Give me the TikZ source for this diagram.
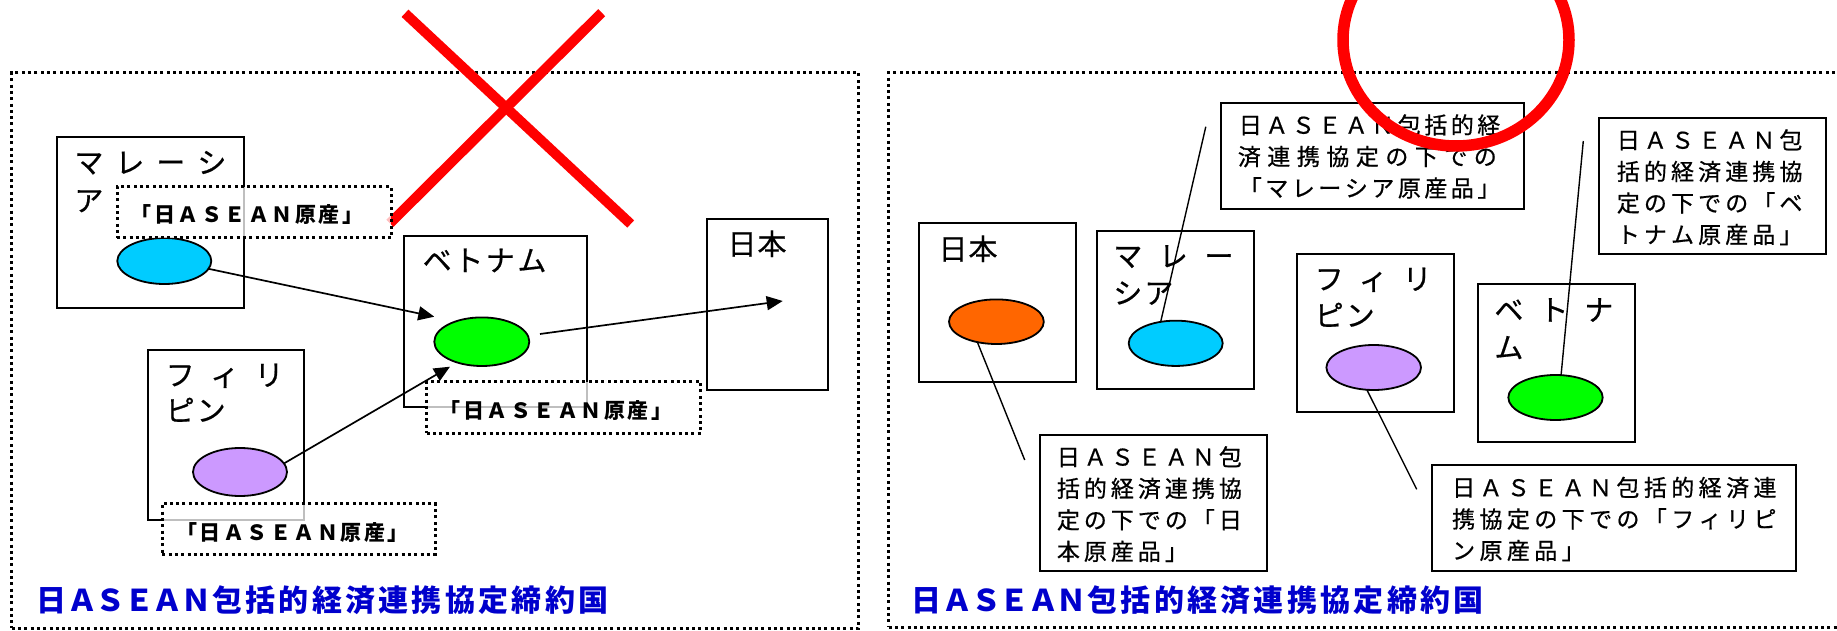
\documentclass[tikz,border=0pt]{standalone}
\usepackage{fontspec}
\setmainfont{Noto Sans CJK JP}
\newfontfamily\cjkthick{Noto Sans CJK JP}[FakeBold=0.6]
\usetikzlibrary{arrows.meta,shapes.geometric}
\makeatletter
\newcommand\spreadL[2]{\@tfor\spr@c:=#2\do{\makebox[#1][l]{\spr@c}}}
\newcommand\spreadC[2]{\@tfor\spr@c:=#2\do{\makebox[#1][c]{\spr@c}}}
\makeatother
\newcommand\lblfont{\cjkthick\fontsize{29pt}{29pt}\selectfont}
\newcommand\calfont{\cjkthick\fontsize{23pt}{23pt}\selectfont}
\newcommand\tagfont{\fontsize{21pt}{21pt}\selectfont\bfseries}
\newcommand\ttlfont{\fontsize{30pt}{30pt}\selectfont\bfseries}
\definecolor{cyanfill}{HTML}{00CCFF}
\definecolor{greenfill}{HTML}{00FF00}
\definecolor{purplefill}{HTML}{CC99FF}
\definecolor{orangefill}{HTML}{FF6600}
\definecolor{ttlblue}{HTML}{0000CC}
\definecolor{xred}{HTML}{FF0000}
\tikzset{
  boxst/.style={draw, line width=2pt, inner sep=0pt, outer sep=0pt, rectangle},
  dotst/.style={draw, line width=3pt, dash pattern=on 3pt off 3.3pt, inner sep=0pt, outer sep=0pt, rectangle},
  lblst/.style={dotst, fill=white, fill opacity=0.75},
  ell/.style={draw, ellipse, line width=1.8pt, inner sep=0pt, outer sep=0pt},
  txt/.style={inner sep=0pt, outer sep=0pt, anchor=base west},
  tagtxt/.style={inner sep=0pt, outer sep=0pt, anchor=base},
  arr/.style={line width=1.7pt, -{Triangle[length=16pt,width=14pt]}},
  ptr/.style={line width=1.4pt},
  callst/.style={draw, line width=2pt, fill=white, inner sep=0pt, outer sep=0pt, rectangle},
  redst/.style={draw=xred, line width=10pt},
}
\begin{document}
\begin{tikzpicture}[x=1pt,y=-1pt]
\useasboundingbox (0,0) rectangle (1837,631);

% ================= LEFT PANEL =================
\node[dotst, minimum width=847pt, minimum height=555.5pt] (panelL) at (435.2,350.25) {};
\node[txt, text=ttlblue] (ttlL) at (35,611) {\ttlfont\spreadC{33pt}{日}\spreadC{28.5pt}{ＡＳＥＡＮ}\spreadC{33.3pt}{包括的経済連携協定締約国}};

\node[boxst, minimum width=187.3pt, minimum height=170.4pt] (mysL) at (150.35,222.5) {};
\node[txt] (mysLt1) at (74.4,173.2) {\lblfont\spreadL{41pt}{マレーシ}};
\node[txt] (mysLt2) at (74.4,211.2) {\lblfont\spreadL{31pt}{ア}};

\node[boxst, minimum width=156.6pt, minimum height=170pt] (phlL) at (226,435) {};
\node[txt] (phlLt1) at (165.7,385.7) {\lblfont\spreadL{44.5pt}{フィリ}};
\node[txt] (phlLt2) at (165.7,421.2) {\lblfont\spreadL{31pt}{ピン}};

\node[boxst, minimum width=182.7pt, minimum height=171pt] (vnmL) at (495.35,321.2) {};
\node[txt] (vnmLt) at (422.7,271.2) {\lblfont\spreadL{31.6pt}{ベトナム}};

\node[boxst, minimum width=121.6pt, minimum height=170.7pt] (jpnL) at (767.5,304.65) {};
\node[txt] (jpnLt) at (727.5,254.7) {\lblfont\spreadL{30pt}{日本}};

\node[ell, fill=cyanfill, minimum width=94pt, minimum height=46pt] (cyanL) at (164.3,261) {};
\node[ell, fill=purplefill, minimum width=94pt, minimum height=48pt] (purpleL) at (240,472) {};
\node[ell, fill=greenfill, minimum width=95pt, minimum height=48.6pt] (greenL) at (481.8,341.7) {};

\coordinate (tipM) at (434.3,316.7);
\coordinate (tipP) at (450,366.7);
\coordinate (startG) at (540,334);
\coordinate (tipJ) at (782.7,301);
\draw[arr] (cyanL.-10) -- (tipM);
\draw[arr] (purpleL.11) -- (tipP);
\draw[arr] (startG) -- (tipJ);

% red cross
\coordinate (xa1) at (405,13.3);
\coordinate (xa2) at (630.7,224);
\coordinate (xb1) at (601.7,12.7);
\coordinate (xb2) at (390,223.3);
\draw[redst] (xa1) -- (xa2);
\draw[redst] (xb1) -- (xb2);

\node[lblst, minimum width=274pt, minimum height=51.3pt] (lblM) at (254,212.35) {};
\node[tagtxt] (lblMt) at (247,222.8) {\tagfont\spreadC{23.5pt}{「日ＡＳＥＡＮ原産」}};
\node[lblst, minimum width=274pt, minimum height=51.6pt] (lblV) at (563.7,407.5) {};
\node[tagtxt] (lblVt) at (555.8,418.8) {\tagfont\spreadC{23.5pt}{「日ＡＳＥＡＮ原産」}};
\node[lblst, minimum width=272.7pt, minimum height=51pt] (lblP) at (298.65,528.8) {};
\node[tagtxt] (lblPt) at (292.5,540.3) {\tagfont\spreadC{23.5pt}{「日ＡＳＥＡＮ原産」}};

% ================= RIGHT PANEL =================
\node[dotst, minimum width=961.3pt, minimum height=554.5pt] (panelR) at (1369.35,349.75) {};
\node[txt, text=ttlblue] (ttlR) at (910.3,611) {\ttlfont\spreadC{33pt}{日}\spreadC{28.5pt}{ＡＳＥＡＮ}\spreadC{33.3pt}{包括的経済連携協定締約国}};

\node[boxst, minimum width=156.8pt, minimum height=158.5pt] (jpnR) at (997.1,302.75) {};
\node[txt] (jpnRt) at (938.5,259.7) {\lblfont\spreadL{30pt}{日本}};

\node[boxst, minimum width=156.7pt, minimum height=158pt] (mysR) at (1175.65,310) {};
\node[txt] (mysRt1) at (1113.3,266.7) {\lblfont\spreadL{45.6pt}{マレー}};
\node[txt] (mysRt2) at (1113.3,303.7) {\lblfont\spreadL{31pt}{シア}};

\node[boxst, minimum width=156.7pt, minimum height=158.6pt] (phlR) at (1375.25,333) {};
\node[txt] (phlRt1) at (1314.7,289.7) {\lblfont\spreadL{44pt}{フィリ}};
\node[txt] (phlRt2) at (1314.7,326.2) {\lblfont\spreadL{31pt}{ピン}};

\node[boxst, minimum width=157.3pt, minimum height=157.7pt] (vnmR) at (1556.35,362.85) {};
\node[txt] (vnmRt1) at (1494.4,320.7) {\lblfont\spreadL{45pt}{ベトナ}};
\node[txt] (vnmRt2) at (1494.4,358.2) {\lblfont\spreadL{31pt}{ム}};

\node[ell, fill=orangefill, minimum width=94.8pt, minimum height=44.6pt] (orangeR) at (996.4,321.7) {};
\node[ell, fill=cyanfill, minimum width=94pt, minimum height=45.3pt] (cyanR) at (1175.7,343.3) {};
\node[ell, fill=purplefill, minimum width=94.6pt, minimum height=45pt] (purpleR) at (1373.7,367.5) {};
\node[ell, fill=greenfill, minimum width=94.4pt, minimum height=45pt] (greenR) at (1555.5,397.5) {};

% callouts
\node[callst, minimum width=302.1pt, minimum height=106.3pt] (calM) at (1372.45,155.85) {};
\node[txt] (calMt1) at (1237.1,133.7) {\calfont\spreadC{26.5pt}{日ＡＳＥＡＮ包括的経}};
\node[txt] (calMt2) at (1234.6,165.2) {\calfont\spreadC{29.5pt}{済連携協定の下での}};
\node[txt] (calMt3) at (1237.1,196.7) {\calfont\spreadC{26.5pt}{「マレーシア原産品」}};

\node[callst, minimum width=227.3pt, minimum height=136.5pt] (calV) at (1712.65,185.95) {};
\node[txt] (calVt1) at (1614.8,148.7) {\calfont\spreadC{27.1pt}{日ＡＳＥＡＮ包}};
\node[txt] (calVt2) at (1614.8,180.2) {\calfont\spreadC{27.1pt}{括的経済連携協}};
\node[txt] (calVt3) at (1614.8,211.7) {\calfont\spreadC{27.1pt}{定の下での「ベ}};
\node[txt] (calVt4) at (1614.8,243.2) {\calfont\spreadC{27.1pt}{トナム原産品」}};

\node[callst, minimum width=226.5pt, minimum height=136.8pt] (calJ) at (1153.25,503) {};
\node[txt] (calJt1) at (1054.9,465.6) {\calfont\spreadC{27pt}{日ＡＳＥＡＮ包}};
\node[txt] (calJt2) at (1054.9,497.1) {\calfont\spreadC{27pt}{括的経済連携協}};
\node[txt] (calJt3) at (1054.9,528.6) {\calfont\spreadC{27pt}{定の下での「日}};
\node[txt] (calJt4) at (1054.9,560.1) {\calfont\spreadC{27pt}{本原産品」}};

\node[callst, minimum width=363.6pt, minimum height=106.2pt] (calP) at (1614.2,518.3) {};
\node[txt] (calPt1) at (1449.9,496.2) {\calfont\spreadC{27.4pt}{日ＡＳＥＡＮ包括的経済連}};
\node[txt] (calPt2) at (1449.9,527.7) {\calfont\spreadC{27.4pt}{携協定の下での「フィリピ}};
\node[txt] (calPt3) at (1449.9,559.2) {\calfont\spreadC{27.4pt}{ン原産品」}};

% pointer lines
\coordinate (pM) at (1205.8,126.7);
\coordinate (pJ) at (1024.7,460);
\coordinate (pP) at (1416.7,489.3);
\coordinate (pV) at (1583.3,141);
\draw[ptr] (pM) -- (cyanR.125.5);
\draw[ptr] (orangeR.-133.5) -- (pJ);
\draw[ptr] (purpleR.-107.7) -- (pP);
\draw[ptr] (pV) -- (greenR.76);

% red circle
\node[draw=xred, line width=11.5pt, ellipse, inner sep=0pt, minimum width=226pt, minimum height=212pt] (okmark) at (1456,40) {};
\end{tikzpicture}
\end{document}
